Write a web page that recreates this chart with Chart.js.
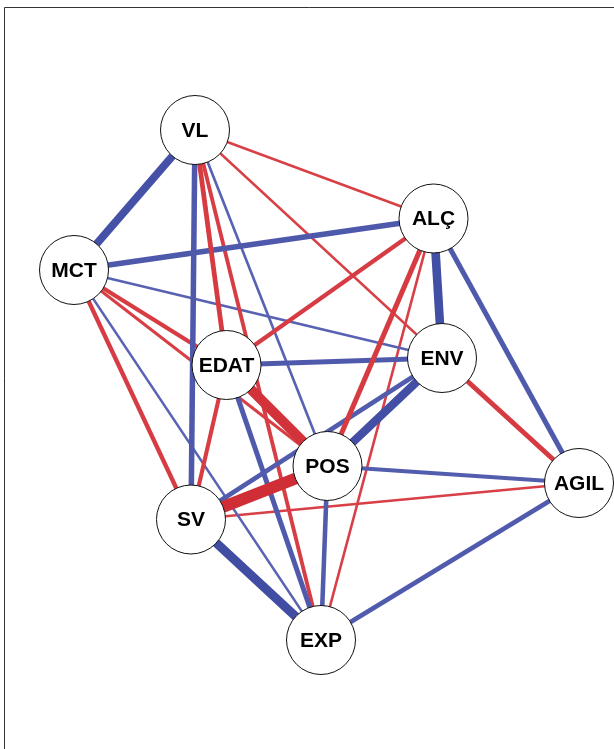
<!DOCTYPE html>
<html>
<head>
<meta charset="utf-8">
<script src="https://cdn.jsdelivr.net/npm/chart.js@4/dist/chart.umd.min.js"></script>
<style>
  html, body { margin: 0; padding: 0; background: #ffffff; }
  #wrap { position: relative; width: 614px; height: 749px; }
</style>
</head>
<body>
<div id="wrap"><canvas id="c" width="614" height="749"></canvas></div>
<script>
// Node labels and layout coordinates (layout units = pixels of the reference)
const nodeNames = ["VL", "ALÇ", "MCT", "EDAT", "ENV", "POS", "AGIL", "SV", "EXP"];
const nodeX = [195, 433.5, 74, 226.5, 442, 327.5, 579, 191, 321];
const nodeY = [130, 218.5, 270, 365, 358, 466, 483, 519.5, 640];

// Edges: source, target, signed weight
const edgeFrom = ["VL","VL","VL","VL","VL","VL","VL",
                  "MCT","MCT","MCT","MCT","MCT","MCT",
                  "ALÇ","ALÇ","ALÇ","ALÇ","ALÇ",
                  "ENV","ENV","ENV","ENV",
                  "EDAT","EDAT","EDAT",
                  "POS","POS","POS",
                  "AGIL","AGIL",
                  "SV"];
const edgeTo   = ["MCT","SV","EDAT","EXP","POS","ALÇ","ENV",
                  "ALÇ","ENV","EDAT","POS","SV","EXP",
                  "EDAT","POS","EXP","ENV","AGIL",
                  "EDAT","POS","SV","AGIL",
                  "POS","SV","EXP",
                  "SV","AGIL","EXP",
                  "SV","EXP",
                  "EXP"];
const edgeWeight = [0.66, 0.46, -0.40, -0.32, 0.22, -0.20, -0.20,
                    0.45, 0.22, -0.35, -0.25, -0.36, 0.20,
                    -0.36, -0.42, -0.22, 0.72, 0.42,
                    0.42, 0.70, 0.38, -0.42,
                    -0.82, -0.34, 0.42,
                    -1.00, 0.35, 0.38,
                    -0.22, 0.40,
                    0.76];

const WIDTH_SCALE = 12;
function mix(a, b, t) {
  const r = Math.round(a[0] + (b[0] - a[0]) * t);
  const g = Math.round(a[1] + (b[1] - a[1]) * t);
  const bl = Math.round(a[2] + (b[2] - a[2]) * t);
  return `rgb(${r},${g},${bl})`;
}
function edgeColor(w) {
  const t = Math.min(1, Math.abs(w));
  return w > 0 ? mix([100, 106, 184], [52, 68, 156], t) : mix([218, 68, 74], [208, 46, 54], t);
}

const idx = name => nodeNames.indexOf(name);

const datasets = [];
// nodes on top
datasets.push({
  label: "nodes",
  data: nodeNames.map((n, i) => ({ x: nodeX[i], y: nodeY[i] })),
  pointRadius: 34.5,
  pointHoverRadius: 34.5,
  pointBackgroundColor: "#ffffff",
  pointBorderColor: "#111111",
  pointBorderWidth: 1,
  showLine: false,
  order: 0,
  clip: false
});
edgeFrom.forEach((f, k) => {
  const a = idx(f), b = idx(edgeTo[k]);
  const w = edgeWeight[k];
  datasets.push({
    label: f + "-" + edgeTo[k],
    data: [{ x: nodeX[a], y: nodeY[a] }, { x: nodeX[b], y: nodeY[b] }],
    showLine: true,
    borderColor: edgeColor(w),
    borderWidth: Math.abs(w) * WIDTH_SCALE,
    pointRadius: 0,
    pointHoverRadius: 0,
    borderCapStyle: "butt",
    order: 1 + Math.round((1 - Math.abs(w)) * 10),
    clip: false
  });
});

const framePlugin = {
  id: "frame",
  beforeDraw(chart) {
    const ctx = chart.ctx;
    ctx.save();
    ctx.fillStyle = "#ffffff";
    ctx.fillRect(0, 0, chart.width, chart.height);
    ctx.strokeStyle = "#333333";
    ctx.lineWidth = 1;
    ctx.beginPath();
    ctx.moveTo(4.5, chart.height + 2);
    ctx.lineTo(4.5, 7.5);
    ctx.lineTo(chart.width + 2, 7.5);
    ctx.stroke();
    ctx.restore();
  }
};

const labelPlugin = {
  id: "nodeLabels",
  afterDatasetsDraw(chart) {
    const ctx = chart.ctx;
    const xs = chart.scales.x, ys = chart.scales.y;
    ctx.save();
    ctx.fillStyle = "#000000";
    ctx.font = "bold 21px 'Liberation Sans', Arial, sans-serif";
    ctx.textAlign = "center";
    ctx.textBaseline = "middle";
    nodeNames.forEach((n, i) => {
      ctx.fillText(n, xs.getPixelForValue(nodeX[i]), ys.getPixelForValue(nodeY[i]) + 1);
    });
    ctx.restore();
  }
};

new Chart(document.getElementById("c"), {
  type: "scatter",
  data: { datasets },
  options: {
    responsive: false,
    devicePixelRatio: 1,
    animation: false,
    layout: { padding: 0, autoPadding: false },
    plugins: { legend: { display: false }, tooltip: { enabled: false } },
    events: [],
    scales: {
      x: { type: "linear", min: 0, max: 614, display: false },
      y: { type: "linear", min: 0, max: 749, reverse: true, display: false }
    }
  },
  plugins: [framePlugin, labelPlugin]
});
</script>
</body>
</html>
